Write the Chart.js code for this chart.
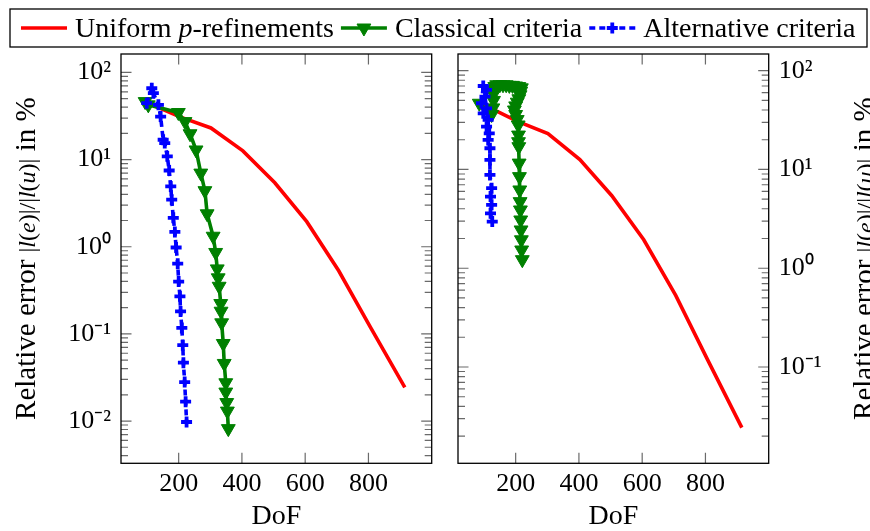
<!DOCTYPE html>
<html>
<head>
<meta charset="utf-8">
<script src="https://cdn.jsdelivr.net/npm/chart.js@4.4.0/dist/chart.umd.min.js"></script>
<style>
html, body { margin: 0; padding: 0; background: #fff; overflow: hidden; }
#wrap { position: relative; width: 870px; height: 531px; }
canvas { position: absolute; left: 0; top: 0; }
</style>
</head>
<body>
<div id="wrap">
  <canvas id="leftChart" width="870" height="531"></canvas>
  <canvas id="rightChart" width="870" height="531"></canvas>
</div>
<script>
var FONT = "'Liberation Serif', 'Times New Roman', serif";

// tick labels
var xTicks = [200, 400, 600, 800];
var yTicksLeft = [0.01, 0.1, 1, 10, 100];
var yLabelsLeft = ['10⁻²', '10⁻¹', '10⁰', '10¹', '10²'];
var yTicksRight = [0.1, 1, 10, 100];
var yLabelsRight = ['10⁻¹', '10⁰', '10¹', '10²'];

var seriesNames = ['Uniform *p*-refinements', 'Classical criteria', 'Alternative criteria'];

// uniform p-refinements (same in both plots)
var uniformDof = [100, 204, 302, 403, 504, 605, 706, 807, 915];
var uniformErr = [45, 30.9, 23.1, 12.6, 5.42, 1.94, 0.53, 0.118, 0.0243];

// left plot
var classicalDofL = [94, 104, 199, 220, 236, 255, 270, 283, 290, 309, 317, 322, 325, 328, 333, 334, 336, 341, 344, 349, 349, 352, 354, 357];
var classicalErrL = [46.3, 42.5, 34.7, 27.3, 19.8, 12.9, 7.0, 4.40, 2.39, 1.32, 0.86, 0.557, 0.44, 0.352, 0.223, 0.182, 0.134, 0.0776, 0.0458, 0.0275, 0.0215, 0.0163, 0.0130, 0.00818];
var alternativeDofL = [99, 115, 120, 136, 143, 151, 156, 164, 170, 175, 178, 183, 188, 192, 197, 200, 204, 206, 210, 213, 215, 219, 222, 225];
var alternativeErrL = [44.4, 65.9, 57.8, 42.5, 31.2, 16.9, 15.5, 10.9, 7.5, 4.92, 3.47, 2.15, 1.48, 0.98, 0.64, 0.398, 0.27, 0.181, 0.117, 0.0743, 0.0467, 0.028, 0.0167, 0.00975];

// right plot
var classicalDofR = [85, 124, 128, 130, 130, 132, 134, 140, 150, 160, 170, 180, 190, 200, 210, 218, 216, 214, 210, 205, 200, 196, 200, 205, 208, 209, 209, 210, 211, 212, 213, 214, 215, 216, 217, 218, 219, 221];
var classicalErrR = [46.8, 36, 42, 50, 58, 64, 69, 72, 72, 72, 72, 71, 71, 70, 69, 67, 62, 57, 52, 48, 44, 40, 36, 32, 28.2, 22.3, 19.1, 17.0, 11.6, 8.46, 6.2, 4.72, 3.89, 3.08, 2.44, 1.94, 1.53, 1.22];
var alternativeDofR = [92, 97.5, 108, 103, 108, 97.5, 113, 108, 116.5, 113, 118.7, 118.7, 118.7, 124, 120.5, 124, 120.5, 126];
var alternativeErrR = [46.8, 70, 63.8, 54.6, 41.6, 37.0, 31.7, 27.1, 23.2, 19.9, 16.4, 12.5, 8.8, 6.46, 5.31, 4.38, 3.60, 2.97];

var yTitle = [['Relative error ', 29], ['|', 24], ['l', 24, true], ['(', 24], ['e', 24, true], [')|/|', 24],
              ['l', 24, true], ['(', 24], ['u', 24, true], [')|', 24], [' in %', 29]];

function pts(xs, ys) {
  return xs.map(function(v, i) { return {x: v, y: ys[i]}; });
}

function makeDatasets(cDof, cErr, aDof, aErr) {
  return [{
    label: seriesNames[0], data: pts(uniformDof, uniformErr),
    borderColor: 'rgb(255,0,0)', borderWidth: 3.6, pointRadius: 0, order: 3
  }, {
    label: seriesNames[1], data: pts(cDof, cErr),
    borderColor: 'rgb(0,128,0)', backgroundColor: 'rgb(0,128,0)', pointBackgroundColor: 'rgb(0,128,0)',
    borderWidth: 3.6, pointStyle: 'triangle', pointRotation: 180, pointRadius: 8, pointBorderWidth: 1, order: 2
  }, {
    label: seriesNames[2], data: pts(aDof, aErr),
    borderColor: 'rgb(0,0,255)', backgroundColor: 'rgb(0,0,255)', pointBackgroundColor: 'rgb(0,0,255)',
    borderWidth: 3.6, borderDash: [6, 4], pointStyle: 'cross', pointRadius: 5.5, pointBorderWidth: 3.8, order: 1
  }];
}

function drawRich(ctx, text, x, y, size) {
  text.split('*').forEach(function(p, i) {
    ctx.font = (i % 2 ? 'italic ' : '') + size + 'px ' + FONT;
    ctx.fillText(p, x, y);
    x += ctx.measureText(p).width;
  });
  return x;
}

// inward ticks on all sides + frame
var framePlugin = {
  id: 'frame',
  afterDatasetsDraw: function(chart) {
    var ctx = chart.ctx, a = chart.chartArea, xs = chart.scales.x, ys = chart.scales.y;
    ctx.save();
    ctx.strokeStyle = '#6a6a6a';
    ctx.lineWidth = 1.2;
    ctx.beginPath();
    xs.ticks.forEach(function(t) {
      var px = xs.getPixelForValue(t.value);
      ctx.moveTo(px, a.bottom); ctx.lineTo(px, a.bottom - 10.5);
      ctx.moveTo(px, a.top); ctx.lineTo(px, a.top + 10.5);
    });
    var lo = Math.floor(Math.log10(ys.min)), hi = Math.ceil(Math.log10(ys.max));
    for (var e = lo; e <= hi; e++) {
      for (var m = 1; m < 10; m++) {
        var v = m * Math.pow(10, e);
        if (v < ys.min || v > ys.max) continue;
        var py = ys.getPixelForValue(v), len = m === 1 ? 10.5 : 7;
        ctx.moveTo(a.left, py); ctx.lineTo(a.left + len, py);
        ctx.moveTo(a.right, py); ctx.lineTo(a.right - len, py);
      }
    }
    ctx.stroke();
    ctx.strokeStyle = '#000';
    ctx.lineWidth = 1.3;
    ctx.strokeRect(a.left, a.top, a.right - a.left, a.bottom - a.top);
    ctx.restore();
  }
};

function titlePlugin(baseX) {
  return {
    id: 'ytitle',
    afterDraw: function(chart) {
      var ctx = chart.ctx, a = chart.chartArea;
      ctx.save();
      ctx.fillStyle = '#000';
      ctx.textBaseline = 'alphabetic';
      var total = 0;
      yTitle.forEach(function(s) {
        ctx.font = (s[2] ? 'italic ' : '') + s[1] + 'px ' + FONT;
        total += ctx.measureText(s[0]).width;
      });
      ctx.translate(baseX, (a.top + a.bottom) / 2);
      ctx.rotate(-Math.PI / 2);
      var x = -total / 2;
      yTitle.forEach(function(s) {
        ctx.font = (s[2] ? 'italic ' : '') + s[1] + 'px ' + FONT;
        ctx.fillText(s[0], x, 0);
        x += ctx.measureText(s[0]).width;
      });
      ctx.restore();
    }
  };
}

var legendPlugin = {
  id: 'boxLegend',
  afterDraw: function(chart) {
    var ctx = chart.ctx;
    ctx.save();
    ctx.lineWidth = 1.3;
    ctx.strokeStyle = '#000';
    ctx.strokeRect(10, 9, 857, 38);
    var x = 21, y = 28;
    chart.data.datasets.forEach(function(ds) {
      ctx.strokeStyle = ds.borderColor;
      ctx.lineWidth = ds.borderWidth;
      ctx.setLineDash(ds.borderDash || []);
      ctx.beginPath(); ctx.moveTo(x, y); ctx.lineTo(x + 46, y); ctx.stroke();
      ctx.setLineDash([]);
      if (ds.pointRadius > 0) {
        ctx.fillStyle = ds.pointBackgroundColor;
        ctx.strokeStyle = ds.borderColor;
        ctx.lineWidth = ds.pointBorderWidth;
        Chart.helpers.drawPoint(ctx, {pointStyle: ds.pointStyle, radius: ds.pointRadius,
          rotation: ds.pointRotation || 0, borderWidth: ds.pointBorderWidth}, x + 23, y);
      }
      ctx.fillStyle = '#000';
      ctx.textBaseline = 'alphabetic';
      x = drawRich(ctx, ds.label, x + 54, y + 9, 28) + 7;
    });
    ctx.restore();
  }
};

function makeChart(id, side, datasets, yMin, yMax, yTickVals, yTickLabels, pad, plugins) {
  return new Chart(document.getElementById(id), {
    type: 'line',
    data: {datasets: datasets},
    options: {
      responsive: false,
      animation: false,
      events: [],
      layout: {padding: pad},
      plugins: {legend: {display: false}, tooltip: {enabled: false}},
      scales: {
        x: {
          type: 'linear', min: 17.7, max: 1000,
          afterBuildTicks: function(s) { s.ticks = xTicks.map(function(v) { return {value: v}; }); },
          afterFit: function(s) { s.height = 67.7; },
          grid: {display: false, drawTicks: false},
          border: {display: false},
          ticks: {autoSkip: false, maxRotation: 0, padding: 5, color: '#000',
            font: {family: FONT, size: 26},
            callback: function(v) { return String(v); }},
          title: {display: true, text: 'DoF', color: '#000',
            font: {family: FONT, size: 28, lineHeight: 1}, padding: {top: 0, bottom: 0}}
        },
        y: {
          type: 'logarithmic', position: side, min: yMin, max: yMax,
          afterBuildTicks: function(s) { s.ticks = yTickVals.map(function(v) { return {value: v}; }); },
          afterFit: function(s) { s.width = side === 'left' ? 121 : 101.3; },
          grid: {display: false, drawTicks: false},
          border: {display: false},
          ticks: {autoSkip: false, padding: 10, color: '#000',
            font: {family: FONT, size: 26},
            callback: function(v, i) { return yTickLabels[i]; }}
        }
      }
    },
    plugins: plugins
  });
}

makeChart('leftChart', 'left', makeDatasets(classicalDofL, classicalErrL, alternativeDofL, alternativeErrL),
  Math.pow(10, -2.485), Math.pow(10, 2.212), yTicksLeft, yLabelsLeft,
  {left: 0, top: 54, right: 438.3, bottom: 0},
  [framePlugin, titlePlugin(35), legendPlugin]);

makeChart('rightChart', 'right', makeDatasets(classicalDofR, classicalErrR, alternativeDofR, alternativeErrR),
  Math.pow(10, -1.975), Math.pow(10, 2.169), yTicksRight, yLabelsRight,
  {left: 458, top: 54, right: 0, bottom: 0},
  [framePlugin, titlePlugin(873)]);
</script>
</body>
</html>
